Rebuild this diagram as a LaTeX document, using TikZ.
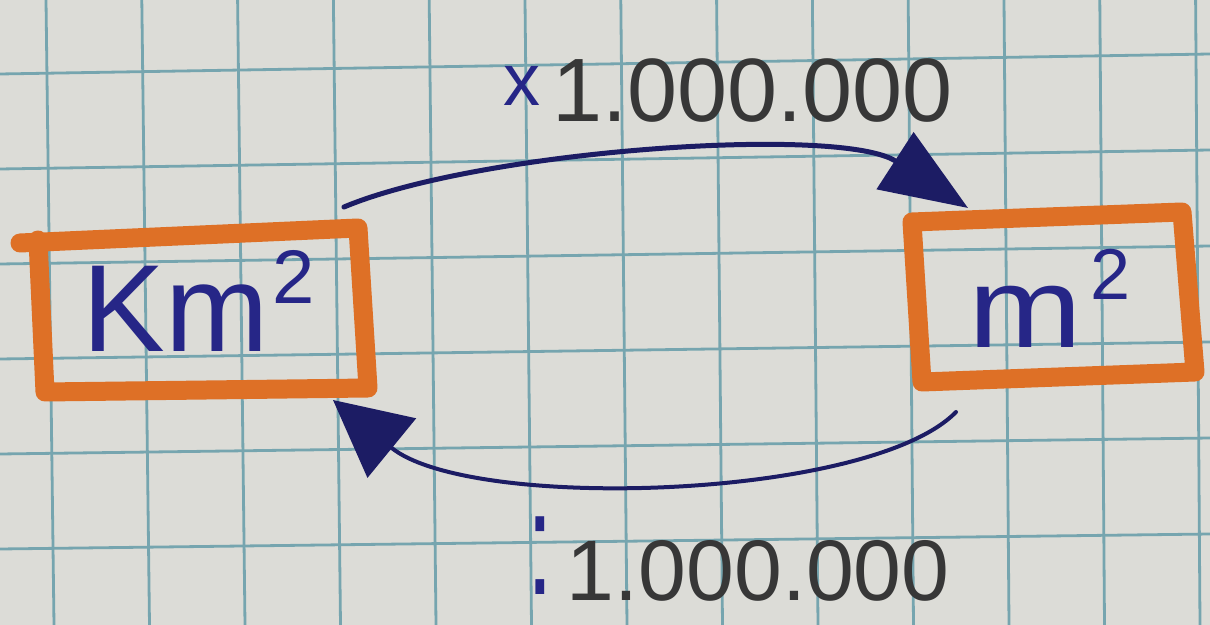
\documentclass[tikz,border=0pt]{standalone}
\usepackage{fontspec}
\setmainfont{Liberation Sans}
\usetikzlibrary{arrows.meta}
\definecolor{paper}{RGB}{220,220,215}
\definecolor{gridc}{RGB}{118,165,175}
\definecolor{orng}{RGB}{222,112,38}
\definecolor{pen}{RGB}{38,38,135}
\definecolor{ink}{RGB}{28,28,100}
\definecolor{graphite}{RGB}{55,55,55}
\tikzset{
  gridline/.style={gridc, line width=1.4pt},
  boxline/.style={orng, line width=9.5pt, line join=round, line cap=round},
  convup/.style={ink, line width=2.5pt, line cap=round, -{Triangle[length=43.5pt,width=33.5pt]}},
  convdown/.style={ink, line width=2pt, line cap=round, -{Triangle[length=38pt,width=38pt]}},
  unit/.style={pen, inner sep=0pt, anchor=base west},
  factor/.style={graphite, inner sep=0pt, anchor=base west},
}
\begin{document}
\begin{tikzpicture}[x=0.5pt,y=-0.5pt]
\fill[paper] (0,0) rectangle (1210,625);
\useasboundingbox (0,0) rectangle (1210,625);
% squared paper
\foreach \k in {0,...,5} \draw[gridline] (0,{74+95*\k}) -- (1210,{54+96*\k});
\foreach \k in {0,...,12} \draw[gridline] ({46+95.8*\k},0) -- ({54+95.5*\k},625);
% boxes
\coordinate (kmTL) at (38,240);
\coordinate (kmTR) at (358,228);
\coordinate (kmBR) at (368,388);
\coordinate (kmBL) at (45,392);
\draw[boxline] (20,243) -- (kmTR) -- (kmBR) -- (kmBL) -- (kmTL);
\coordinate (mTL) at (912,222);
\coordinate (mTR) at (1182,212);
\coordinate (mBR) at (1195,372);
\coordinate (mBL) at (922,382);
\draw[boxline] (mTL) -- (mTR) -- (mBR) -- (mBL) -- cycle;
% units
\node[unit, font=\fontsize{62}{62}\selectfont] (km) at (82,352)
  {Km\hspace{2pt}\raisebox{24pt}{\fontsize{38}{38}\selectfont 2}};
\node[unit, font=\fontsize{57}{57}\selectfont] (m) at (968,348)
  {\scalebox{1.2}[1]{m}\hspace{4pt}\raisebox{24pt}{\fontsize{36}{36}\selectfont 2}};
% factors
\node[factor, font=\fontsize{45}{45}\selectfont] (up) at (503,122)
  {\raisebox{8pt}{\textcolor{pen}{\fontsize{37}{37}\selectfont x}}\hspace{6pt}1.000.000};
\node[factor, font=\fontsize{43}{43}\selectfont] (down) at (527,600)
  {\raisebox{3pt}{\textcolor{pen}{\scalebox{1}[1.6]{\fontsize{46}{46}\selectfont :}}}\hspace{7pt}1.000.000};
% conversion arrows
\coordinate (a1s) at (344,207);
\coordinate (a1e) at (968,208);
\coordinate (a2s) at (956,412);
\coordinate (a2e) at (333,400);
\draw[convup] (a1s) .. controls (480,150) and (840,125) .. (a1e);
\draw[convdown] (a2s) .. controls (870,500) and (470,512) .. (a2e);
\end{tikzpicture}
\end{document}
